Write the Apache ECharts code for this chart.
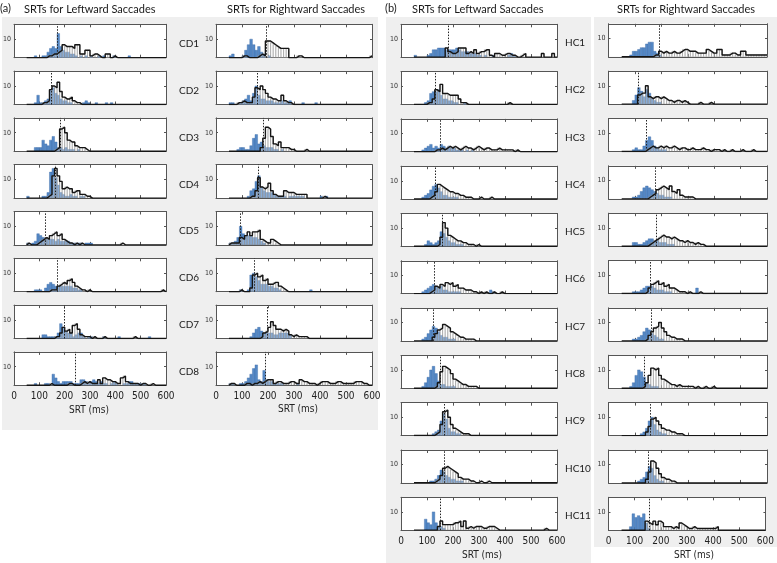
<!DOCTYPE html>
<html><head><meta charset="utf-8">
<script src="https://cdn.jsdelivr.net/npm/echarts@6/dist/echarts.min.js"></script>
<style>html,body{margin:0;padding:0;background:#fff}#c{width:777px;height:563px}</style>
</head><body><div id="c"></div><script>
// Histogram counts, 10 ms bins, first bin starts at 50 ms (missing trailing bins = 0)
const BIN0 = 50, BINW = 10;
const xTickLabels = [0,100,200,300,400,500,600];
const labelsA = ['CD1','CD2','CD3','CD4','CD5','CD6','CD7','CD8'];
const labelsB = ['HC1','HC2','HC3','HC4','HC5','HC6','HC7','HC8','HC9','HC10','HC11'];

// ---- (a) Leftward
const CD1_L_blue  = [0,0,0,1,0, 0,1,1,3,5,6,5,13,6,4, 3,3,2,2,1,0,1,0,1,0, 1,0,0,1,0,1,0,0,0,1, 0,0,0,0,0,1];
const CD1_L_black = [0,0,0,0,0, 0,0,0,1,1,2,2,3,4,7, 6,6,6,5,7,7,2,2,4,4, 1,2,2,1,0,0,2,2,0,1];
const CD1_L_med = 172;
const CD2_L_blue  = [0,0,0,1,5, 1,1,2,3,8,9,6,5,3,2, 2,1,1,0,0,0,0,1,2,1, 0,0,1,0,0,0,1,0,1];
const CD2_L_black = [0,0,0,0,0, 0,1,1,2,8,10,9,12,7,4, 3,3,4,2,1,1];
const CD2_L_med = 147;
const CD3_L_blue  = [0,0,0,2,2, 2,6,4,3,6,8,5,2,2,1, 2,1,1,1,0,1];
const CD3_L_black = [0,0,0,0,0, 0,0,0,0,0,0,1,2,12,13, 10,6,5,5,3,2,2,2,1];
const CD3_L_med = 184;
const CD4_L_blue  = [1,0,0,0,0, 0,1,1,3,14,16,11,7,3,2, 1,1,2,1,1,0,1,1];
const CD4_L_black = [0,0,0,0,0, 0,0,0,1,2,12,16,12,9,5, 6,5,5,3,4,4,2,2,1,1];
const CD4_L_med = 162;
const CD5_L_blue  = [1,0,1,2,6, 5,4,3,3,3,3,2,3,2,2, 2,2,1,1,1,1,1,0,1,1, 1];
const CD5_L_black = [1,0,0,0,1, 2,3,4,3,5,6,7,5,6,3, 2,1,1,0,1,0,1,0,0,0, 0,0,0,0,0,0,0,0,0,0, 0,0,1];
const CD5_L_med = 124;
const CD6_L_blue  = [0,0,0,1,1, 1,0,2,4,5,4,3,3,3,3, 3,3,3,2,2,1,1];
const CD6_L_black = [0,0,0,0,0, 0,0,0,0,1,1,1,3,4,5, 4,6,7,5,3,2,1,1,0,1, 0,0,0,0,0,0,0,0,0,0, 0,0,0,0,0,0,0,0,0,0, 0,0,0,0,0,0,0,0,1];
const CD6_L_med = 172;
const CD7_L_blue  = [0,0,0,0,0, 0,2,2,1,1,1,1,3,8,6, 4,3,3,1,2,3,3,1,0,1, 1,0,0,0,0,1,0,0,0,0, 0,1,0,0,0,0,0,0,0,0, 0,0,0,1];
const CD7_L_black = [0,0,0,0,0, 0,0,0,0,0,0,1,1,3,6, 4,5,3,7,8,5,2,1,1,1, 0,1,0,0,0,1,0,0,0,0, 0,0,0,0,0,0,0,1];
const CD7_L_med = 198;
const CD8_L_blue  = [0,0,0,1,0, 0,0,1,1,0,6,4,2,1,2, 2,2,2,1,1,1,3,3,2,1, 2,3,2,1,2,1,1,0,1,2, 1,0,0,1,1,2,2,1,1,1, 1,1];
const CD8_L_black = [0,0,0,0,0, 0,0,0,0,1,0,0,0,0,0, 0,1,1,0,0,0,1,2,1,2, 1,1,1,3,1,4,3,3,2,2, 1,1,4,5,2,1,1,1,1,0, 1,1,0,0,1];
const CD8_L_med = 243;
// ---- (a) Rightward
const CD1_R_blue  = [1,2,0,0,0, 1,4,7,10,7,4,6,3,2,0, 1];
const CD1_R_black = [0,0,0,0,0, 1,1,0,0,0,0,1,2,1,9, 9,8,7,6,5,5,5,5,0,0, 0,1,1,0,0,0,0,0,0,0, 0,0,0,0,0,0,0,0,0,0, 0,0,0,0,0,0,0,0,0,1];
const CD1_R_med = 192;
const CD2_R_blue  = [1,1,0,0,1, 2,3,5,2,6,10,5,3,3,2, 2,2,1,1,1,2,1,1,2,0, 0,0,0,1,0,0,0,0,1];
const CD2_R_black = [0,0,0,1,1, 2,1,1,1,4,9,8,10,8,6, 4,3,3,2,2,5,2,1,1];
const CD2_R_med = 160;
const CD3_R_blue  = [0,0,0,1,2, 2,1,1,3,7,9,4,5,3,2, 2,2,1,1,0,1];
const CD3_R_black = [0,0,0,0,0, 0,0,0,0,0,0,0,2,7,13, 12,8,4,3,5,2,2,2,1,1, 0,0,0,0,1];
const CD3_R_med = 182;
const CD4_R_blue  = [0,0,0,0,0, 0,0,1,4,5,9,12,6,4,3, 3,3,2,1,1,1,1,0,1,1, 1,1,1,1,0,0,0,0,0,0, 1,0,1];
const CD4_R_black = [0,0,0,0,0, 0,0,0,1,1,4,11,6,5,6, 8,4,2,1,1,1,4,3,3,3, 2,2,2,2,2,0,0,0,0,0, 0,1];
const CD4_R_med = 164;
const CD5_R_blue  = [1,1,2,4,10, 6,5,5,5,4,4,3,2,1];
const CD5_R_black = [1,1,1,1,4, 3,5,7,5,7,7,8,3,2,1, 1,3,2,1];
const CD5_R_med = 92;
const CD6_R_blue  = [0,0,0,0,1, 0,0,1,9,10,8,6,4,4,4, 3,3,2,2,1,0,0,0,0,0, 0,0,0,0,0,0,1];
const CD6_R_black = [0,0,0,0,1, 0,0,0,2,9,10,8,9,6,7, 4,4,5,5,3,2,1];
const CD6_R_med = 147;
const CD7_R_blue  = [0,0,0,0,0, 0,0,0,1,3,5,6,4,3,3, 3,3,2,2,3,3,3,3,2];
const CD7_R_black = [0,0,0,0,0, 0,0,0,0,0,0,0,1,3,4, 6,9,7,5,5,4,5,4,2,1, 2,1,1,1,1];
const CD7_R_med = 197;
const CD8_R_blue  = [1,1,0,0,1, 1,2,4,6,9,11,3,2,8,3, 2,2,1,1,1,1,0,0,0,0, 0,1];
const CD8_R_black = [1,1,0,0,0, 0,1,1,0,1,1,2,1,2,3, 3,3,1,2,2,1,1,1,2,2, 1,1,3,2,2,1,1,1,0,1, 2,2,2,1,1,1,2,2,1,1, 1,1,1,2,2,2,1,1];
const CD8_R_med = 188;
// ---- (b) Leftward
const HC1_L_blue  = [1,0,0,0,0, 1,2,4,4,5,5,5,4,4,4, 4,5,4,3,3,3,2,2,2,1, 1,0,1,0,0,1,0,0,0,0, 0,1,2,1];
const HC1_L_black = [0,0,0,0,0, 0,0,0,0,0,0,0,5,3,2, 2,3,5,5,5,2,3,2,4,2, 3,3,4,4,1,0,2,2,1,1, 2,2,1,1,0,0,1,2,0,0, 0,0,0,0,2,0,0,0,2];
const HC1_L_med = 181;
const HC2_L_blue  = [0,0,0,0,1, 2,6,7,7,8,5,3,3,2,2, 1,1,0,0,1];
const HC2_L_black = [0,0,0,0,0, 1,1,3,8,7,11,6,6,5,5, 5,5,3,1,1,0,0,0,0,0, 0,0,0,0,0,0,0,0,0,0, 0,1];
const HC2_L_med = 133;
const HC3_L_blue  = [0,0,0,1,2, 3,4,2,3,2,4,3,2,3,2, 2,1,1,1,0,1,0,1];
const HC3_L_black = [0,0,0,0,0, 0,0,0,1,1,2,1,2,3,2, 3,2,1,2,3,2,2,1,2,3, 2,1,2,2,1,1,1,2,1,1, 1,1,1,0,1];
const HC3_L_med = 150;
const HC4_L_blue  = [0,0,0,1,2, 3,5,7,8,6,4,2,2,1,1, 1,1];
const HC4_L_black = [0,0,0,0,0, 0,1,2,4,8,7,6,5,4,4, 3,3,2,2,1,1,1,0,0,0, 1,0,0,0,1];
const HC4_L_med = 130;
const HC5_L_blue  = [0,0,0,0,1, 3,2,1,2,3,8,7,5,3,2, 2,1,1,1];
const HC5_L_black = [0,0,0,0,0, 0,0,0,0,1,5,13,10,6,5, 4,3,3,2,2,1,1,1,0,1];
const HC5_L_med = 160;
const HC6_L_blue  = [0,0,0,1,2, 3,4,5,4,3,4,2,2,1,1, 1,1,1,0,0,0,0,0,0,0, 0,0,0,0,2,1];
const HC6_L_black = [0,0,0,0,0, 0,1,2,4,3,5,4,6,5,6, 4,5,3,3,2,2,2,1,1,0, 1,0,1,0,0,1,0,0,1];
const HC6_L_med = 127;
const HC7_L_blue  = [0,0,0,1,2, 4,6,8,7,5,3,2,2,1,1, 1];
const HC7_L_black = [0,0,0,0,0, 0,0,2,4,6,7,9,8,7,5, 4,3,2,2,1,1,1,1];
const HC7_L_med = 123;
const HC8_L_blue  = [0,0,0,1,3, 6,10,12,8,4,2,2,1,1,1, 1];
const HC8_L_black = [0,0,0,0,0, 0,0,0,1,3,9,12,11,10,8, 5,4,3,2,2,1,1,1,1];
const HC8_L_med = 150;
const HC9_L_blue  = [0,0,0,0,0, 0,0,1,2,3,8,12,9,4,2, 2,1,1];
const HC9_L_black = [0,0,0,0,0, 0,0,0,1,2,6,13,14,10,6, 4,3,2,1,1,1];
const HC9_L_med = 168;
const HC10_L_blue  = [0,0,0,0,0, 0,1,1,2,4,7,6,4,3,2, 2,1,1,1];
const HC10_L_black = [0,0,0,0,0, 0,0,0,1,2,4,8,9,8,7, 6,5,3,2,2,2,1,1,0,0, 1,0,0,1];
const HC10_L_med = 165;
const HC11_L_blue  = [0,0,0,0,6, 4,3,10,4,2,2,1];
const HC11_L_black = [0,0,0,0,0, 0,0,0,0,2,5,3,3,3,3, 4,4,5,2,5,1,2,1,2,2, 2,1,1,2,2,2,1,0,0,0, 0,0,0,0,0,0,0,0,0,0, 0,0,0,0,0,1];
const HC11_L_med = 150;
// ---- (b) Rightward
const HC1_R_blue  = [0,0,0,1,3, 3,4,5,5,7,8,8,3,2,1];
const HC1_R_black = [0,0,0,0,0, 0,0,0,0,0,0,0,1,1,3, 2,3,2,2,3,2,2,3,4,4, 3,3,3,2,2,2,2,4,3,2, 2,4,4,1,1,1,2,2,1,1, 3,3,1,1,1,1,1,1,1,1];
const HC1_R_med = 192;
const HC2_R_blue  = [0,0,0,0,2, 5,9,7,4,8,6,3,2,1,1];
const HC2_R_black = [0,0,0,0,0, 0,5,6,6,10,4,3,4,4,3, 4,3,2,2,1,2,2,1,2,1, 0,0,0,0,1,0,0,0,1];
const HC2_R_med = 113;
const HC3_R_blue  = [0,0,0,0,1, 2,1,1,3,6,8,6,3,2,1, 1,1];
const HC3_R_black = [0,0,0,0,0, 0,0,0,0,1,2,3,2,2,3, 2,3,2,2,3,2,1,2,2,1, 1,2,1,1,1,2,1,1,0,1, 1,1,0,1,0,0,1,0,0,0, 1,0,0,0,1];
const HC3_R_med = 142;
const HC4_R_blue  = [0,0,0,0,1, 1,2,4,6,7,6,5,4,3,2, 2,1,1,1];
const HC4_R_black = [0,0,0,0,0, 0,0,0,0,0,1,2,3,5,6, 7,6,5,7,4,3,5,2,1,1, 1,1];
const HC4_R_med = 177;
const HC5_R_blue  = [0,0,0,0,2, 2,1,1,2,3,4,4,3,3,2, 2,2,1,1,1];
const HC5_R_black = [0,0,0,0,0, 0,0,0,0,0,1,2,3,4,5, 6,5,5,4,5,4,3,3,2,3, 2,2,1,2,1,1];
const HC5_R_med = 180;
const HC6_R_blue  = [0,0,0,0,1, 1,1,2,3,4,4,4,3,2,2, 2,1,1,1,0,0,0,0,0,0, 0,0,0,3];
const HC6_R_black = [0,0,0,0,0, 0,0,0,0,1,3,5,6,7,5, 6,4,5,3,3,2,1,1,1,0, 1,0,0,0,1];
const HC6_R_med = 157;
const HC7_R_blue  = [0,0,0,0,1, 1,2,3,5,7,6,4,3,2,1, 1];
const HC7_R_black = [0,0,0,0,0, 0,0,0,0,1,3,5,7,8,10, 7,5,3,2,2,1,1,1];
const HC7_R_med = 160;
const HC8_R_blue  = [0,0,0,1,3, 7,10,9,6,3,2,1,1,1];
const HC8_R_black = [0,0,0,0,0, 0,0,0,1,3,7,11,10,11,7, 5,4,3,2,2,1,2,1,1,1, 1,1,0,1,0,0,1,0,0,1];
const HC8_R_med = 135;
const HC9_R_blue  = [0,0,0,0,0, 0,0,1,2,4,8,10,6,3,2, 1,1];
const HC9_R_black = [0,0,0,0,0, 0,0,0,0,2,5,9,10,8,6, 4,3,3,2,2,1,1,1];
const HC9_R_med = 157;
const HC10_R_blue  = [0,0,0,0,0, 0,1,2,3,6,9,8,4,2,1, 1];
const HC10_R_black = [0,0,0,0,0, 0,0,0,0,2,6,12,11,8,5, 3,2,2,1,1];
const HC10_R_med = 150;
const HC11_R_blue  = [0,0,0,2,9, 7,8,7,9,4,1];
const HC11_R_black = [0,0,0,0,0, 0,0,0,0,5,4,3,5,3,5, 4,2,2,2,1,2,1,4,3,2, 1,1,2,1,1,1,1,1,1,1, 1,2];
const HC11_R_med = 154;

const colAL = [[CD1_L_blue,CD1_L_black,CD1_L_med],[CD2_L_blue,CD2_L_black,CD2_L_med],[CD3_L_blue,CD3_L_black,CD3_L_med],[CD4_L_blue,CD4_L_black,CD4_L_med],[CD5_L_blue,CD5_L_black,CD5_L_med],[CD6_L_blue,CD6_L_black,CD6_L_med],[CD7_L_blue,CD7_L_black,CD7_L_med],[CD8_L_blue,CD8_L_black,CD8_L_med]];
const colAR = [[CD1_R_blue,CD1_R_black,CD1_R_med],[CD2_R_blue,CD2_R_black,CD2_R_med],[CD3_R_blue,CD3_R_black,CD3_R_med],[CD4_R_blue,CD4_R_black,CD4_R_med],[CD5_R_blue,CD5_R_black,CD5_R_med],[CD6_R_blue,CD6_R_black,CD6_R_med],[CD7_R_blue,CD7_R_black,CD7_R_med],[CD8_R_blue,CD8_R_black,CD8_R_med]];
const colBL = [[HC1_L_blue,HC1_L_black,HC1_L_med],[HC2_L_blue,HC2_L_black,HC2_L_med],[HC3_L_blue,HC3_L_black,HC3_L_med],[HC4_L_blue,HC4_L_black,HC4_L_med],[HC5_L_blue,HC5_L_black,HC5_L_med],[HC6_L_blue,HC6_L_black,HC6_L_med],[HC7_L_blue,HC7_L_black,HC7_L_med],[HC8_L_blue,HC8_L_black,HC8_L_med],[HC9_L_blue,HC9_L_black,HC9_L_med],[HC10_L_blue,HC10_L_black,HC10_L_med],[HC11_L_blue,HC11_L_black,HC11_L_med]];
const colBR = [[HC1_R_blue,HC1_R_black,HC1_R_med],[HC2_R_blue,HC2_R_black,HC2_R_med],[HC3_R_blue,HC3_R_black,HC3_R_med],[HC4_R_blue,HC4_R_black,HC4_R_med],[HC5_R_blue,HC5_R_black,HC5_R_med],[HC6_R_blue,HC6_R_black,HC6_R_med],[HC7_R_blue,HC7_R_black,HC7_R_med],[HC8_R_blue,HC8_R_black,HC8_R_med],[HC9_R_blue,HC9_R_black,HC9_R_med],[HC10_R_blue,HC10_R_black,HC10_R_med],[HC11_R_blue,HC11_R_black,HC11_R_med]];

// ---- layout (pixels)
const layout = [
  {left:9.5, width:156.5, top:24.3, pitch:46.8, h:33.4, rows:colAL},
  {left:216, width:156, top:24.3, pitch:46.8, h:33.4, rows:colAR},
  {left:401, width:156, top:24.3, pitch:47.3, h:32.8, rows:colBL},
  {left:608.5, width:158.5, top:23.8, pitch:47.35, h:33, rows:colBR}
];
const TXT = 'Lato';
const NARROW = '"Liberation Sans Narrow", "DejaVu Sans Condensed", sans-serif';
const BLUE = '#5589c6';

const grids=[], xAxes=[], yAxes=[], series=[], graphics=[];
let gi = 0;

function rectRender(fill, stroke, lw){
  return function(params, api){
    const x0 = api.value(0), c = api.value(1);
    if(!c) return null;
    const p0 = api.coord([x0, 0]);
    const p1 = api.coord([x0 + BINW, c]);
    return {type:'rect', shape:{x:p0[0], y:p1[1], width:p1[0]-p0[0], height:p0[1]-p1[1]},
            style:{fill:fill, stroke:stroke, lineWidth:lw}};
  };
}

layout.forEach((col)=>{
  col.rows.forEach((r, ri)=>{
    const blue = r[0], black = r[1], med = r[2];
    const last = ri === col.rows.length - 1;
    grids.push({left:col.left, top:col.top + ri*col.pitch, width:col.width, height:col.h,
                show:true, backgroundColor:'#ffffff', borderWidth:0});
    const axLine = {show:true, onZero:false, lineStyle:{color:'#555', width:1}};
    xAxes.push({gridIndex:gi, type:'value', min:0, max:600, interval:100, position:'bottom',
      axisLine:axLine, axisTick:{show:true, inside:true, length:3, lineStyle:{color:'#555'}},
      axisLabel:{show:last, fontFamily:NARROW, fontSize:10, color:'#222', margin:6,
        customValues:xTickLabels},
      splitLine:{show:false}});
    xAxes.push({gridIndex:gi, type:'value', min:0, max:600, interval:100, position:'top',
      axisLine:axLine, axisTick:{show:true, inside:true, length:3, lineStyle:{color:'#555'}},
      axisLabel:{show:false}, splitLine:{show:false}});
    yAxes.push({gridIndex:gi, type:'value', min:0, max:18, position:'left',
      axisLine:axLine, axisTick:{show:true, inside:true, length:2, customValues:[10], lineStyle:{color:'#555'}},
      axisLabel:{show:true, customValues:[10], fontFamily:NARROW, fontSize:7, color:'#333', margin:3},
      splitLine:{show:false}});
    yAxes.push({gridIndex:gi, type:'value', min:0, max:18, position:'right',
      axisLine:axLine, axisTick:{show:true, inside:true, length:2, customValues:[10], lineStyle:{color:'#555'}},
      axisLabel:{show:false}, splitLine:{show:false}});
    const xi = gi*2, yi = gi*2;
    const blueData = blue.map((c,i)=>[BIN0 + i*BINW, c]);
    const blackData = black.map((c,i)=>[BIN0 + i*BINW, c]);
    series.push({type:'custom', xAxisIndex:xi, yAxisIndex:yi, z:2, clip:true, silent:true,
      renderItem:rectRender(BLUE, '#3c6aa6', 0.4), data:blueData});
    series.push({type:'custom', xAxisIndex:xi, yAxisIndex:yi, z:3, clip:true, silent:true,
      renderItem:rectRender('rgba(255,255,255,0.3)', '#8c8c8c', 0.5), data:blackData});
    const nb = 55;
    const stair = [[BIN0, 0]];
    for(let i=0;i<nb;i++) stair.push([BIN0 + i*BINW, black[i] || 0]);
    stair.push([BIN0 + nb*BINW, black[nb-1] || 0]);
    series.push({type:'line', xAxisIndex:xi, yAxisIndex:yi, z:4, step:'end', symbol:'none',
      silent:true, data:stair, lineStyle:{color:'#151515', width:1.4},
      markLine:{silent:true, symbol:'none', label:{show:false}, animation:false,
        lineStyle:{color:'#222', width:1, type:[1.5,1.5]}, data:[{xAxis:med}]}});
    gi++;
  });
});

// text
function txt(x, y, s, size, align, font, color){
  graphics.push({type:'text', x:x, y:y, silent:true, z:10,
    style:{text:s, fontSize:size, fontFamily:font || TXT, fill:color || '#1a1a1a',
           textAlign:align || 'left', textVerticalAlign:'middle'}});
}
// backgrounds
graphics.push({type:'rect', z:-10, silent:true, shape:{x:2, y:17, width:376, height:413}, style:{fill:'#efefef'}});
graphics.push({type:'rect', z:-10, silent:true, shape:{x:386, y:17, width:205, height:546}, style:{fill:'#efefef'}});
graphics.push({type:'rect', z:-10, silent:true, shape:{x:594, y:17, width:183, height:530}, style:{fill:'#efefef'}});

txt(0, 8, '(a)', 11);
txt(24, 9, 'SRTs for Leftward Saccades', 11);
txt(227, 9, 'SRTs for Rightward Saccades', 11);
txt(385, 8, '(b)', 11);
txt(412, 9, 'SRTs for Leftward Saccades', 11);
txt(617, 9, 'SRTs for Rightward Saccades', 11);
labelsA.forEach((s,i)=> txt(179, layout[0].top + i*layout[0].pitch + layout[0].h/2 + 3, s, 10));
labelsB.forEach((s,i)=> txt(565, layout[2].top + i*layout[2].pitch + layout[2].h/2 + 2, s, 10));
txt(89, 410, 'SRT (ms)', 10, 'center', NARROW, '#222');
txt(298, 409, 'SRT (ms)', 10, 'center', NARROW, '#222');
txt(482, 555, 'SRT (ms)', 10, 'center', NARROW, '#222');
txt(694, 555, 'SRT (ms)', 10, 'center', NARROW, '#222');

const chart = echarts.init(document.getElementById('c'));
chart.setOption({animation:false, backgroundColor:'#ffffff', grid:grids, xAxis:xAxes, yAxis:yAxes, series:series, graphic:graphics});
</script></body></html>
